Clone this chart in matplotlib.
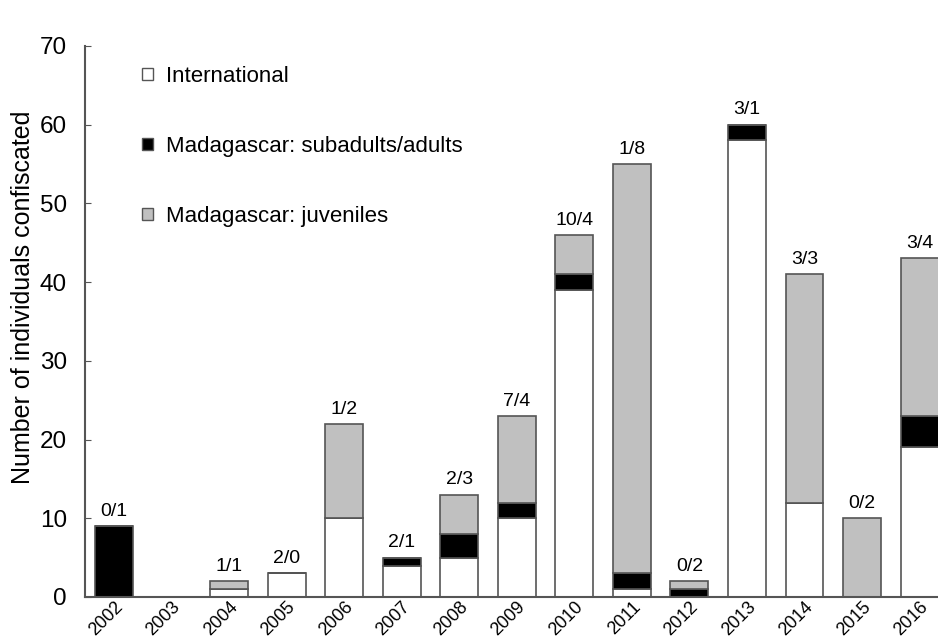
import matplotlib.pyplot as plt
import matplotlib.transforms as mtransforms
import numpy as np
from matplotlib.patches import Patch

plt.rcParams["font.family"] = ["Liberation Sans", "DejaVu Sans"]

years = [str(y) for y in range(2002, 2017)]
international = [0, 0, 1, 3, 10, 4, 5, 10, 39, 1, 0, 58, 12, 0, 19]
mada_adults = [9, 0, 0, 0, 0, 1, 3, 2, 2, 2, 1, 2, 0, 0, 4]
mada_juveniles = [0, 0, 1, 0, 12, 0, 5, 11, 5, 52, 1, 0, 29, 10, 20]
bar_labels = ["0/1", "", "1/1", "2/0", "1/2", "2/1", "2/3", "7/4", "10/4",
              "1/8", "0/2", "3/1", "3/3", "0/2", "3/4"]

EDGE = "#555555"
GRAY = "#c0c0c0"

fig = plt.figure(figsize=(9.38, 6.4), dpi=100)
ax = fig.add_axes([0.0906, 0.0672, 0.91, 0.861])

x = np.arange(len(years))
intl = np.array(international)
adu = np.array(mada_adults)
juv = np.array(mada_juveniles)
w = 0.66
kw = dict(width=w, edgecolor=EDGE, linewidth=1.2)
ax.bar(x, intl, color="white", **kw)
ax.bar(x, adu, bottom=intl, color="black", **kw)
ax.bar(x, juv, bottom=intl + adu, color=GRAY, **kw)

tot = intl + adu + juv
for xi, t, lab in zip(x, tot, bar_labels):
    if lab:
        ax.text(xi, t + 0.8, lab, ha="center", va="bottom", fontsize=14)

ax.set_xlim(-0.504, 14.33)
ax.set_ylim(0, 70)
ax.set_yticks(range(0, 71, 10))
ax.set_xticks(x)
ax.set_xticklabels(years, rotation=45, ha="right", rotation_mode="anchor",
                   fontsize=13)
shift = mtransforms.ScaledTranslation(8 / 100, 0, fig.dpi_scale_trans)
for lbl in ax.get_xticklabels():
    lbl.set_transform(lbl.get_transform() + shift)
ax.tick_params(axis="x", length=0, pad=1)
ax.tick_params(axis="y", direction="in", length=4, color=EDGE, labelsize=17.5, pad=13)
for s in ("top", "right"):
    ax.spines[s].set_visible(False)
for s in ("left", "bottom"):
    ax.spines[s].set_color(EDGE)
    ax.spines[s].set_linewidth(1.5)
ax.set_ylabel("Number of individuals confiscated", fontsize=18)
ax.yaxis.set_label_coords(-0.058, 0.544)

handles = [
    Patch(facecolor="white", edgecolor=EDGE, label="International"),
    Patch(facecolor="black", edgecolor=EDGE, label="Madagascar: subadults/adults"),
    Patch(facecolor=GRAY, edgecolor=EDGE, label="Madagascar: juveniles"),
]
ax.legend(handles=handles, loc="upper left", bbox_to_anchor=(0.043, 1.0),
          frameon=False, fontsize=16, handlelength=0.5, handleheight=0.5,
          handletextpad=0.6, labelspacing=2.2)

fig.savefig("out.png", dpi=100)
